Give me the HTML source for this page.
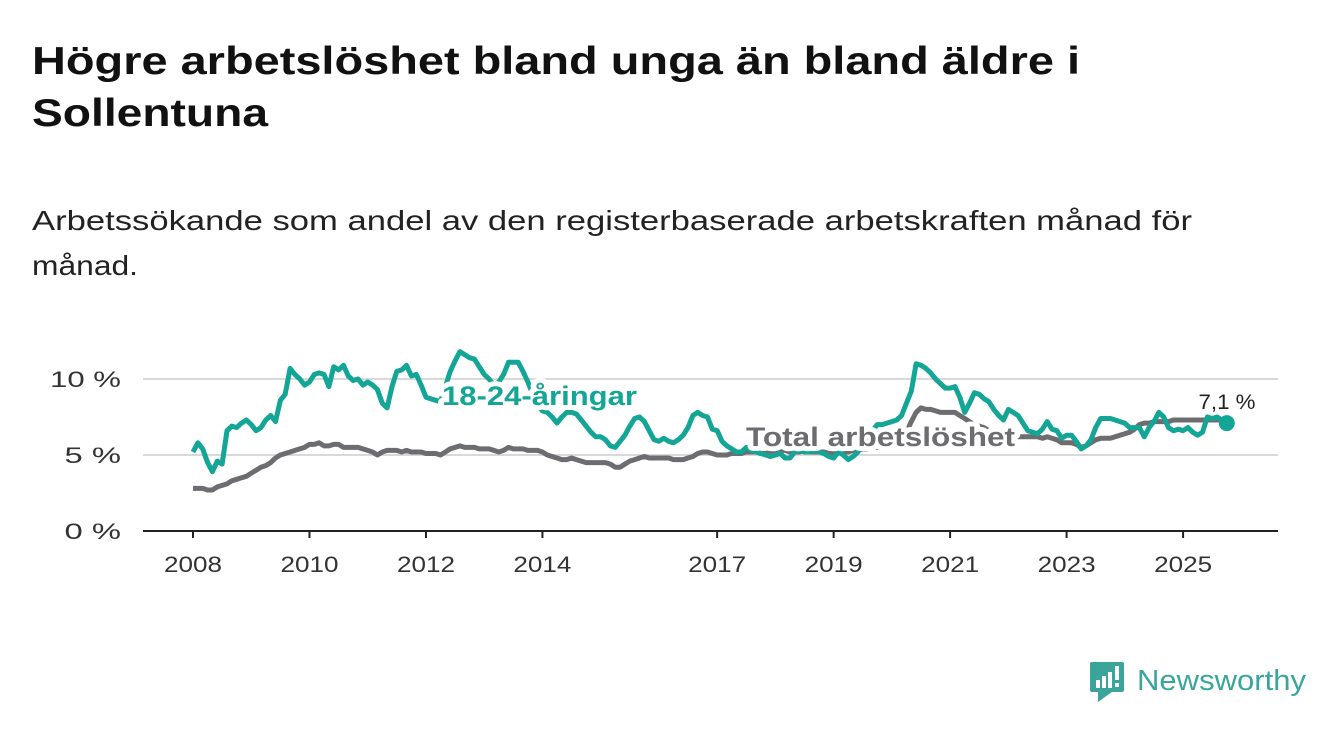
<!DOCTYPE html>
<html><head><meta charset="utf-8"><style>
html,body{margin:0;padding:0;background:#fff;}
svg{display:block;font-family:"Liberation Sans",sans-serif;}
</style></head><body>
<svg id="chart" width="1340" height="734" viewBox="0 0 1340 734">
<text x="32" y="74" font-size="39" font-weight="bold" fill="#111" textLength="1048" lengthAdjust="spacingAndGlyphs">Högre arbetslöshet bland unga än bland äldre i</text>
<text x="32" y="126" font-size="39" font-weight="bold" fill="#111" textLength="236" lengthAdjust="spacingAndGlyphs">Sollentuna</text>
<text x="32" y="230" font-size="28" fill="#222" textLength="1160" lengthAdjust="spacingAndGlyphs">Arbetssökande som andel av den registerbaserade arbetskraften månad för</text>
<text x="32" y="275" font-size="28" fill="#222" textLength="106" lengthAdjust="spacingAndGlyphs">månad.</text>
<g id="grid"></g>
<g id="series"></g>
<g id="labels"></g>
<g>
<rect x="1090" y="662" width="34" height="30" rx="2" fill="#3aa59a"/>
<polygon points="1098,692 1112,692 1098,702" fill="#3aa59a"/>
<rect x="1096" y="680" width="4" height="8" fill="#fff"/><rect x="1102" y="676" width="4" height="12" fill="#fff"/><rect x="1108" y="672" width="4" height="16" fill="#fff"/><rect x="1115" y="666" width="4" height="14" fill="#fff"/><rect x="1115" y="683" width="4" height="4" fill="#fff"/>
<text x="1137" y="690" font-size="29" fill="#3aa59a" textLength="169" lengthAdjust="spacingAndGlyphs">Newsworthy</text>
</g>
</svg>
<script>
const years = ["2008","2010","2012","2014","2017","2019","2021","2023","2025"];
const yTicks = [0,5,10];
const startYear = 2008;
const youth = [
5.2,5.8,5.4,4.5,3.9,4.6,4.4,6.6,6.9,6.8,7.1,7.3,
7.0,6.6,6.8,7.3,7.6,7.2,8.6,9.0,10.7,10.3,10.0,9.6,
9.8,10.3,10.4,10.3,9.5,10.8,10.6,10.9,10.2,9.9,10.0,9.6,
9.8,9.6,9.3,8.4,8.1,9.5,10.5,10.6,10.9,10.2,10.3,9.6,
8.8,8.7,8.6,8.5,9.5,10.5,11.2,11.8,11.6,11.4,11.3,10.8,
10.3,10.0,9.6,9.8,10.3,11.1,11.1,11.1,10.5,9.8,9.0,8.3,
7.9,7.8,7.5,7.1,7.5,7.8,7.8,7.7,7.3,6.9,6.5,6.2,
6.2,6.0,5.6,5.5,5.9,6.3,6.9,7.4,7.5,7.2,6.6,6.0,
5.9,6.1,5.9,5.8,6.0,6.3,6.8,7.6,7.8,7.6,7.5,6.7,
6.6,5.9,5.6,5.4,5.2,5.2,5.5,5.3,5.2,5.1,5.0,4.9,
5.0,5.1,4.8,4.8,5.2,5.3,5.2,5.2,5.3,5.2,5.1,4.9,
4.8,5.2,5.0,4.7,4.9,5.2,5.8,6.2,6.6,7.0,7.0,7.1,
7.2,7.3,7.6,8.4,9.2,11.0,10.9,10.7,10.4,10.0,9.7,9.4,
9.4,9.5,8.8,7.8,8.4,9.1,9.0,8.7,8.5,8.0,7.6,7.3,
8.0,7.8,7.6,7.1,6.6,6.5,6.4,6.7,7.2,6.7,6.6,6.1,
6.3,6.3,5.9,5.4,5.6,6.0,6.8,7.4,7.4,7.4,7.3,7.2,
7.1,6.8,6.8,6.8,6.2,6.8,7.2,7.8,7.5,6.8,6.6,6.7,
6.6,6.8,6.5,6.3,6.5,7.5,7.4,7.5,7.3,7.1];
const total = [
2.8,2.8,2.8,2.7,2.7,2.9,3.0,3.1,3.3,3.4,3.5,3.6,
3.8,4.0,4.2,4.3,4.5,4.8,5.0,5.1,5.2,5.3,5.4,5.5,
5.7,5.7,5.8,5.6,5.6,5.7,5.7,5.5,5.5,5.5,5.5,5.4,
5.3,5.2,5.0,5.2,5.3,5.3,5.3,5.2,5.3,5.2,5.2,5.2,
5.1,5.1,5.1,5.0,5.2,5.4,5.5,5.6,5.5,5.5,5.5,5.4,
5.4,5.4,5.3,5.2,5.3,5.5,5.4,5.4,5.4,5.3,5.3,5.3,
5.2,5.0,4.9,4.8,4.7,4.7,4.8,4.7,4.6,4.5,4.5,4.5,
4.5,4.5,4.4,4.2,4.2,4.4,4.6,4.7,4.8,4.9,4.8,4.8,
4.8,4.8,4.8,4.7,4.7,4.7,4.8,4.9,5.1,5.2,5.2,5.1,
5.0,5.0,5.0,5.1,5.1,5.1,5.2,5.2,5.2,5.1,5.1,5.2,
5.2,5.3,5.3,5.2,5.2,5.2,5.3,5.2,5.2,5.2,5.2,5.1,
5.1,5.2,5.2,5.2,5.3,5.3,5.4,5.4,5.5,5.5,5.5,5.5,
5.6,5.7,5.9,6.5,7.2,7.8,8.1,8.0,8.0,7.9,7.8,7.8,
7.8,7.8,7.6,7.4,7.2,7.0,6.9,6.8,6.6,6.5,6.4,6.3,
6.2,6.2,6.2,6.2,6.2,6.2,6.2,6.1,6.2,6.1,6.0,5.8,
5.8,5.8,5.7,5.5,5.6,5.8,6.0,6.1,6.1,6.1,6.2,6.3,
6.4,6.5,6.7,7.0,7.1,7.1,7.2,7.2,7.2,7.2,7.3,7.3,
7.3,7.3,7.3,7.3,7.3,7.3,7.3,7.3,7.3,7.2];
const lastLabel = "7,1 %";

const NS="http://www.w3.org/2000/svg";
const X0=143,X1=1278;
function xScale(t){return 193+(t-startYear)*58.24;}
function yScale(v){return 531-v*15.2;}
function mk(tag,attrs,parent){const e=document.createElementNS(NS,tag);for(const k in attrs)e.setAttribute(k,attrs[k]);parent.appendChild(e);return e;}
const grid=document.getElementById('grid');
yTicks.forEach(v=>{
  if(v>0){const g=mk('line',{x1:X0,x2:X1,y1:yScale(v),y2:yScale(v),stroke:'#d9d9d9','stroke-width':2},grid);
  
  }
  const lbl=v+' %';
  const t=mk('text',{x:121,y:yScale(v)+8,'text-anchor':'end','font-size':22,fill:'#333',textLength:lbl.length*14.5+13,lengthAdjust:'spacingAndGlyphs'},grid);
  t.textContent=lbl;
  
  
});
const ax=mk('line',{x1:X0,x2:X1,y1:531,y2:531,stroke:'#222','stroke-width':2},grid);


years.forEach(y=>{
  const x=xScale(+y);
  const tk=mk('line',{x1:x,x2:x,y1:531,y2:538,stroke:'#222','stroke-width':2},grid);
  
  
  const t=mk('text',{x:x,y:572,'text-anchor':'middle','font-size':22,fill:'#333',textLength:58,lengthAdjust:'spacingAndGlyphs'},grid);
  t.textContent=y;
  
  
});
const ser=document.getElementById('series');
function path(arr){return arr.map((v,i)=>(i?'L':'M')+xScale(startYear+i/12).toFixed(1)+','+yScale(v).toFixed(1)).join(' ');}
const pt=mk('path',{d:path(total),fill:'none',stroke:'#6d6c70','stroke-width':5,'stroke-linejoin':'round'},ser);


const py=mk('path',{d:path(youth),fill:'none',stroke:'#13a596','stroke-width':5,'stroke-linejoin':'round'},ser);


const li=youth.length-1;
const dot=mk('circle',{cx:xScale(startYear+li/12),cy:yScale(youth[li]),r:8,fill:'#13a596'},ser);


const lab=document.getElementById('labels');
const l1=mk('text',{x:442,y:405,'font-size':27,'font-weight':'bold',fill:'#13a596',stroke:'#fff','stroke-width':10,'paint-order':'stroke','stroke-linejoin':'round',textLength:195,lengthAdjust:'spacingAndGlyphs'},lab);
l1.textContent='18-24-åringar';


const l2=mk('text',{x:746,y:446,'font-size':27,'font-weight':'bold',fill:'#6d6c70',stroke:'#fff','stroke-width':10,'paint-order':'stroke','stroke-linejoin':'round',textLength:269,lengthAdjust:'spacingAndGlyphs'},lab);
l2.textContent='Total arbetslöshet';


const l3=mk('text',{x:1227,y:409,'font-size':21,fill:'#222','text-anchor':'middle',stroke:'#fff','stroke-width':5,'paint-order':'stroke',textLength:57,lengthAdjust:'spacingAndGlyphs'},lab);
l3.textContent=lastLabel;


</script>
</body></html>
